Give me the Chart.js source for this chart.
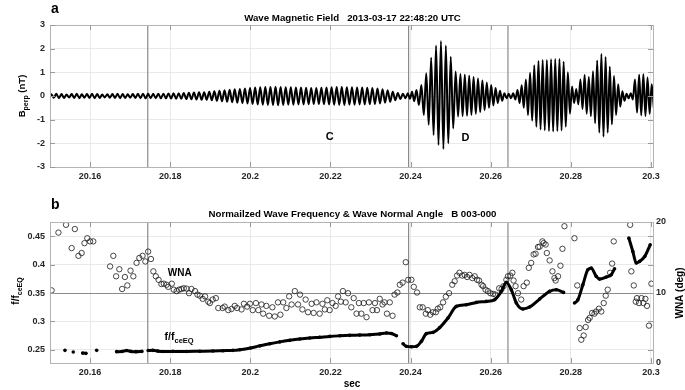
<!DOCTYPE html>
<html lang="en">
<head>
<meta charset="UTF-8">
<title>Wave Magnetic Field</title>
<script src="https://cdn.jsdelivr.net/npm/chart.js"></script>
<style>
  body { margin: 0; background: #fff; }
  #wrap { position: relative; width: 685px; height: 390px; }
  canvas { position: absolute; left: 0; }
</style>
</head>
<body>
<div id="wrap">
  <canvas id="waveChart" width="685" height="190" style="top:0"></canvas>
  <canvas id="freqChart" width="685" height="200" style="top:190px"></canvas>
</div>
<script>
// ---- shared time axis (sec) ----
const xTicks = [20.16, 20.18, 20.2, 20.22, 20.24, 20.26, 20.28, 20.3];
const markerTimes = [20.1744, 20.2395, 20.2643];

// ---- panel a: B_perp wave, read cycle by cycle ----
// each segment: period (ms), peak and trough size (nT) of every cycle
const waveStart = 20.15;
const wavePeriod = [1.272, 1.060, 1.222, 1.097, 1.047, 1.047, 1.047, 1.047, 1.047];
const quietAmp = [
  0.07, 0.09, 0.08, 0.06, 0.08, 0.09, 0.07, 0.08, 0.09, 0.08,
  0.06, 0.07, 0.08, 0.09, 0.08, 0.07, 0.08, 0.09, 0.10, 0.09,
  0.09, 0.10, 0.10, 0.11, 0.12, 0.12, 0.13, 0.14, 0.15, 0.16,
  0.16, 0.18, 0.20, 0.22, 0.24, 0.26, 0.28, 0.30, 0.32, 0.34,
  0.36, 0.37, 0.38, 0.38, 0.39, 0.38, 0.37, 0.37, 0.36, 0.36,
  0.35, 0.34, 0.34, 0.35, 0.36, 0.37, 0.38, 0.38, 0.37, 0.37,
  0.36, 0.36, 0.35, 0.34, 0.32, 0.28, 0.24, 0.18, 0.13, 0.10
];
const wavePeaks = [
  quietAmp,
  [0.12, 0.18],
  [0.25, 0.46, 0.96, 1.62, 2.13, 2.32, 2.13, 1.66, 1.03],
  [0.93, 0.9, 0.86, 0.8, 0.74, 0.66, 0.57, 0.46, 0.34, 0.22, 0.12, 0.1, 0.12],
  [0.25, 0.45, 0.7, 0.98, 1.3, 1.48, 1.52, 1.52, 1.55, 1.56, 1.56, 1.45, 1.0, 0.4],
  [0.3],
  [0.7, 0.89, 0.8, 1.05, 1.5, 1.78, 1.65, 1.24, 0.85, 0.5, 0.2],
  [0.1, 0.12],
  [0.7, 0.9, 0.92, 0.78, 0.5]
];
const waveTroughs = [
  quietAmp,
  [0.12, 0.22],
  [0.38, 0.8, 1.22, 1.65, 2.07, 2.24, 2.0, 1.37, 0.87],
  [0.85, 0.83, 0.8, 0.75, 0.68, 0.6, 0.5, 0.4, 0.3, 0.2, 0.1, 0.1, 0.15],
  [0.3, 0.5, 0.8, 1.05, 1.3, 1.42, 1.45, 1.48, 1.5, 1.48, 1.46, 1.3, 0.75, 0.3],
  [0.35],
  [0.55, 0.75, 0.85, 1.15, 1.55, 1.72, 1.55, 1.2, 0.8, 0.45, 0.2],
  [0.1, 0.15],
  [0.7, 0.82, 0.85, 0.75, 0.5]
];
const bTicks = [-3, -2, -1, 0, 1, 2, 3];

// ---- panel b: wave normal angle (deg, right axis) ----
const wnaT = [
  20.1504, 20.1521, 20.1540, 20.1554, 20.1562, 20.1571, 20.1579, 20.1586, 20.1593, 20.1600, 20.1608,
  20.1650, 20.1658, 20.1665, 20.1673, 20.1680, 20.1687, 20.1693, 20.1701, 20.1708, 20.1716,
  20.1723, 20.1731, 20.1738, 20.1745, 20.1752, 20.1758, 20.1764, 20.1771, 20.1778, 20.1784,
  20.1791, 20.1795, 20.1804, 20.1809, 20.1816, 20.1822, 20.1828, 20.1834, 20.1841, 20.1847,
  20.1853, 20.1862, 20.1868, 20.1874, 20.1881, 20.1887, 20.1895, 20.1899, 20.1906, 20.1914,
  20.1920, 20.1931, 20.1936, 20.1945, 20.1953, 20.1961, 20.1967,
  20.1978, 20.1984, 20.1992, 20.1999, 20.2006, 20.2014, 20.2020, 20.2028, 20.2032, 20.2040,
  20.2047, 20.2055, 20.2061, 20.2069, 20.2075, 20.2082, 20.2090, 20.2097, 20.2103, 20.2111,
  20.2119, 20.2124, 20.2130, 20.2138, 20.2144, 20.2153, 20.2158, 20.2165, 20.2173, 20.2180,
  20.2186, 20.2192, 20.2198, 20.2205, 20.2213, 20.2219, 20.2226, 20.2231, 20.2238, 20.2244,
  20.2252, 20.2258, 20.2265, 20.2271, 20.2277, 20.2283, 20.2290, 20.2296, 20.2305, 20.2311,
  20.2316, 20.2323, 20.2330, 20.2335, 20.2341, 20.2348, 20.2355, 20.2360, 20.2367, 20.2373,
  20.2380, 20.2388, 20.2394, 20.2402, 20.2408, 20.2416, 20.2423, 20.2430, 20.2438, 20.2443,
  20.2449, 20.2456, 20.2463, 20.2468, 20.2474, 20.2481, 20.2488, 20.2496, 20.2504, 20.2510,
  20.2516, 20.2522, 20.2529, 20.2535, 20.2541, 20.2547, 20.2554, 20.2560, 20.2566, 20.2571,
  20.2577, 20.2581, 20.2587, 20.2593, 20.2599, 20.2606, 20.2612, 20.2621, 20.2627, 20.2632,
  20.2639, 20.2643, 20.2649, 20.2654, 20.2657, 20.2662, 20.2668, 20.2676, 20.2682, 20.2690,
  20.2695, 20.2701, 20.2707, 20.2712, 20.2718, 20.2722, 20.2729, 20.2732, 20.2737, 20.2740,
  20.2747, 20.2754, 20.2759, 20.2762, 20.2768, 20.2774, 20.2779, 20.2784, 20.2809, 20.2816,
  20.2822, 20.2826, 20.2832, 20.2837, 20.2843, 20.2847, 20.2853, 20.2859, 20.2863, 20.2870,
  20.2876, 20.2882, 20.2887, 20.2892, 20.2898, 20.2903, 20.2907, 20.2948, 20.2951, 20.2957,
  20.2962, 20.2965, 20.2970, 20.2976, 20.2981, 20.2986, 20.2990, 20.2995, 20.3001
];
const wnaDeg = [
  10.3, 18.5, 19.6, 16.3, 19.0, 15.2, 15.6, 17.0, 17.7, 17.25, 17.25,
  13.7, 15.2, 12.3, 13.3, 10.5, 12.2, 11.0, 13.1, 12.3, 14.2,
  14.9, 15.2, 14.4, 15.8, 14.75, 13.0, 12.3, 11.8, 11.2, 11.25,
  11.1, 10.8, 11.25, 10.4, 10.2, 10.4, 10.5, 10.6, 10.55, 9.9,
  10.5, 10.2, 9.7, 9.55, 9.1, 9.45, 8.7, 8.5, 9.0, 9.2,
  7.8, 7.8, 8.0, 7.5, 7.66, 8.1, 7.8,
  7.6, 8.4, 8.0, 8.4, 7.5, 8.5, 7.5, 8.3, 7.0, 8.1,
  6.7, 7.9, 6.6, 8.6, 6.85, 8.6, 7.8, 9.45, 8.3, 10.2,
  8.3, 9.7, 7.6, 9.0, 7.2, 8.4, 7.1, 8.6, 7.0, 8.4,
  7.6, 8.9, 7.5, 8.5, 8.1, 9.45, 8.7, 10.2, 8.6, 9.9,
  7.9, 9.2, 7.0, 8.5, 7.0, 8.5, 6.5, 8.6, 7.5, 8.5,
  7.5, 9.1, 8.3, 8.6, 7.0, 8.6, 6.7, 9.7, 10.0, 11.1,
  11.4, 14.3, 11.8, 11.8, 10.8, 10.0, 7.9, 7.9, 7.0, 7.5,
  6.85, 7.2, 7.2, 7.7, 7.9, 8.6, 9.4, 9.9, 11.1, 11.6,
  12.4, 12.8, 12.4, 12.5, 12.2, 12.5, 12.05, 12.3, 11.8, 11.7,
  11.1, 10.9, 10.4, 10.2, 9.9, 9.8, 9.7, 10.6, 10.5, 10.9,
  11.8, 12.3, 12.4, 12.8, 11.7, 10.9, 9.9, 9.0, 10.9, 11.4,
  13.5, 14.2, 15.4, 15.5, 16.45, 16.5, 17.25, 17.0, 16.8, 15.6,
  14.55, 13.0, 12.05, 11.7, 12.3, 13.8, 16.2, 19.4, 17.7, 11.0,
  4.95, 3.3, 3.9, 5.1, 6.1, 6.4, 7.1, 7.0, 7.3, 7.7,
  7.3, 8.5, 9.55, 10.4, 12.8, 14.1, 17.25, 19.6, 13.0, 11.0,
  8.7, 9.2, 8.5, 9.2, 8.5, 9.1, 8.1, 5.3, 11.25
];
const wnaTicks = [0, 10, 20];

// ---- panel b: normalized frequency f/fceEQ (left axis), null = gap ----
const fT = [
  20.15374, 20.1548, 20.15581, 20.1570, 20.15815, 20.15898, 20.1600, 20.16165, 20.1640,
  20.16663, 20.16796, 20.16913, 20.17020, 20.17145, 20.17294, 20.1737,
  20.17451, 20.17569, 20.17693, 20.17818, 20.18067, 20.18409, 20.18741, 20.19065, 20.19314, 20.19564,
  20.19738, 20.20005, 20.20237, 20.20486, 20.20736, 20.20985, 20.21234, 20.21484, 20.21733, 20.21983,
  20.22232, 20.22481, 20.22731, 20.2298, 20.2323, 20.23397, 20.23521, 20.23646, 20.2373,
  20.23811, 20.23895, 20.2402, 20.24145, 20.24269, 20.24394, 20.24559, 20.24726, 20.24933, 20.25142,
  20.25392, 20.25641, 20.2589, 20.26098, 20.26265, 20.2639, 20.26514, 20.26639, 20.26803, 20.2697,
  20.2722, 20.27469, 20.27636, 20.27818, 20.2795,
  20.28092, 20.28175, 20.283, 20.28424, 20.28509, 20.28634, 20.28716, 20.28883, 20.29008, 20.2909, 20.2925,
  20.29447, 20.29547, 20.29631, 20.29714, 20.29844, 20.2998
];
const fRatio = [
  0.2488, null, 0.246, null, 0.244, 0.2435, null, 0.2488, null,
  0.2465, 0.2468, 0.2485, 0.247, 0.2465, 0.247, null,
  0.2485, 0.2488, 0.2475, 0.2468, 0.247, 0.2468, 0.2472, 0.2476, 0.2482, 0.2488,
  0.25, 0.253, 0.2568, 0.2606, 0.2638, 0.2665, 0.2688, 0.2706, 0.272, 0.2735,
  0.2745, 0.2753, 0.2758, 0.2765, 0.2778, 0.2795, 0.2785, 0.2747, null,
  0.2606, 0.2559, 0.2553, 0.2559, 0.2647, 0.2783, 0.2806, 0.289, 0.306, 0.3265,
  0.3294, 0.3335, 0.3353, 0.3383, 0.353, 0.3688, 0.3559, 0.3324, 0.3218, 0.3253,
  0.3394, 0.353, 0.3559, 0.3512, null,
  0.3324, 0.338, 0.3647, 0.3912, 0.394, 0.3794, 0.3747, 0.3783, 0.3824, 0.393, null,
  0.447, 0.4235, 0.403, 0.4059, 0.4147, 0.4353
];
const fTicks = [0.25, 0.3, 0.35, 0.4, 0.45];

// ---- build the wave line from the cycle table ----
const wavePts = [{ x: waveStart, y: 0 }];
let segT = waveStart;
wavePeriod.forEach((ms, s) => {
  const T = ms / 1000;
  wavePeaks[s].forEach((a, i) => {
    wavePts.push({ x: segT + (i + 0.25) * T, y: a });
    wavePts.push({ x: segT + (i + 0.75) * T, y: -waveTroughs[s][i] });
  });
  segT += wavePeaks[s].length * T;
});

const FONT = '"Liberation Sans", Arial, sans-serif';
Chart.defaults.font.family = FONT;
Chart.defaults.color = '#262626';

function tickLabel(v) { return String(Number(v.toFixed(2))); }
function fixTicks(list) { return scale => { scale.ticks = list.map(v => ({ value: v })); }; }

// draw text made of pieces (for subscripts), centred on x,y
function drawParts(ctx, parts, x, y, rot, align) {
  ctx.save();
  ctx.translate(x, y);
  if (rot) ctx.rotate(rot);
  let w = 0;
  parts.forEach(p => { ctx.font = 'bold ' + p.s + 'px ' + FONT; w += ctx.measureText(p.t).width; });
  let cx = align === 'left' ? 0 : -w / 2;
  ctx.textBaseline = 'alphabetic';
  ctx.textAlign = 'left';
  ctx.fillStyle = '#000';
  parts.forEach(p => {
    ctx.font = 'bold ' + p.s + 'px ' + FONT;
    ctx.fillText(p.t, cx, p.dy || 0);
    cx += ctx.measureText(p.t).width;
  });
  ctx.restore();
}

// MATLAB-like frame: marker lines, box, inward ticks, titles and labels
const frame = {
  id: 'frame',
  beforeDatasetsDraw(chart, args, opts) {
    const { ctx, chartArea: a, scales } = chart;
    ctx.save();
    ctx.strokeStyle = '#8a8a8a';
    ctx.lineWidth = 1.2;
    markerTimes.forEach(t => {
      const x = scales.x.getPixelForValue(t);
      ctx.beginPath(); ctx.moveTo(x, a.top); ctx.lineTo(x, a.bottom); ctx.stroke();
    });
    if (opts.hLine != null) {
      const y = Math.round(scales.y.getPixelForValue(opts.hLine)) + 0.5;
      ctx.lineWidth = 1;
      ctx.beginPath(); ctx.moveTo(a.left, y); ctx.lineTo(a.right, y); ctx.stroke();
    }
    ctx.restore();
  },
  afterDraw(chart, args, opts) {
    const { ctx, chartArea: a, scales } = chart;
    ctx.save();
    ctx.strokeStyle = '#b4b4b4';
    ctx.lineWidth = 1;
    ctx.strokeRect(Math.round(a.left) + 0.5, Math.round(a.top) + 0.5,
                   Math.round(a.right - a.left), Math.round(a.bottom - a.top));
    ctx.strokeStyle = '#9a9a9a';
    const tl = 5;
    xTicks.forEach(t => {
      const x = Math.round(scales.x.getPixelForValue(t)) + 0.5;
      ctx.beginPath();
      ctx.moveTo(x, a.bottom); ctx.lineTo(x, a.bottom - tl);
      ctx.moveTo(x, a.top); ctx.lineTo(x, a.top + tl);
      ctx.stroke();
    });
    scales.y.ticks.forEach(tk => {
      const y = Math.round(scales.y.getPixelForValue(tk.value)) + 0.5;
      ctx.beginPath();
      ctx.moveTo(a.left, y); ctx.lineTo(a.left + tl, y);
      ctx.moveTo(a.right, y); ctx.lineTo(a.right - tl, y);
      ctx.stroke();
    });
    ctx.restore();

    // panel letter and title
    ctx.save();
    ctx.fillStyle = '#000';
    ctx.font = 'bold 14px ' + FONT;
    ctx.textAlign = 'left';
    ctx.fillText(opts.letter, 51, opts.letterY);
    ctx.font = 'bold 9.7px ' + FONT;
    ctx.textAlign = 'center';
    ctx.fillText(opts.title, (a.left + a.right) / 2 + 1, opts.titleY);
    ctx.restore();

    (opts.texts || []).forEach(tx => {
      const x = scales.x.getPixelForValue(tx.x);
      const y = scales[tx.axis || 'y'].getPixelForValue(tx.y);
      drawParts(ctx, tx.parts, x, y, 0, tx.align);
    });
    (opts.labels || []).forEach(lb => drawParts(ctx, lb.parts, lb.x, lb.y, lb.rot, 'center'));
  }
};

const commonX = {
  type: 'linear',
  min: 20.15,
  max: 20.3005,
  afterBuildTicks: fixTicks(xTicks),
  ticks: { padding: 4, font: { size: 9, weight: 'bold' }, callback: tickLabel, maxRotation: 0 },
  grid: { color: '#e9e9e9', drawTicks: false },
  border: { display: false }
};

// ---- panel a ----
new Chart(document.getElementById('waveChart'), {
  type: 'line',
  data: {
    datasets: [{
      data: wavePts,
      borderColor: '#000',
      borderWidth: 2,
      pointRadius: 0,
      cubicInterpolationMode: 'monotone',
      clip: 0
    }]
  },
  options: {
    responsive: false,
    animation: false,
    events: [],
    layout: { padding: { top: 25, right: 32, left: 0, bottom: 0 } },
    scales: {
      x: Object.assign({}, commonX, { afterFit: s => { s.height = 23; } }),
      y: {
        min: -3, max: 3,
        afterBuildTicks: fixTicks(bTicks),
        afterFit: s => { s.width = 50; },
        ticks: { padding: 5, font: { size: 9, weight: 'bold' } },
        grid: { color: '#e9e9e9', drawTicks: false },
        border: { display: false }
      }
    },
    plugins: {
      legend: { display: false },
      tooltip: { enabled: false },
      frame: {
        letter: 'a', letterY: 13,
        title: 'Wave Magnetic Field   2013-03-17 22:48:20 UTC', titleY: 21,
        texts: [
          { x: 20.2198, y: -1.85, parts: [{ t: 'C', s: 11 }] },
          { x: 20.2537, y: -1.9, parts: [{ t: 'D', s: 11 }] }
        ],
        labels: [
          { x: 25, y: 96, rot: -Math.PI / 2,
            parts: [{ t: 'B', s: 9.5 }, { t: 'perp', s: 7, dy: 2.5 }, { t: ' (nT)', s: 9.5 }] }
        ]
      }
    }
  },
  plugins: [frame]
});

// ---- panel b ----
new Chart(document.getElementById('freqChart'), {
  type: 'scatter',
  data: {
    datasets: [
      {
        type: 'line',
        data: fT.map((t, i) => ({ x: t, y: fRatio[i] })),
        yAxisID: 'y',
        borderColor: '#000',
        backgroundColor: '#000',
        borderWidth: 3,
        pointRadius: 1.8,
        pointBorderWidth: 0,
        spanGaps: false,
        cubicInterpolationMode: 'monotone',
        order: 0
      },
      {
        data: wnaT.map((t, i) => ({ x: t, y: wnaDeg[i] })),
        yAxisID: 'y1',
        pointStyle: 'circle',
        pointRadius: 2.7,
        borderColor: '#1a1a1a',
        borderWidth: 0.8,
        backgroundColor: 'rgba(0,0,0,0)',
        order: 1
      }
    ]
  },
  options: {
    responsive: false,
    animation: false,
    events: [],
    layout: { padding: { top: 32, right: 0, left: 0, bottom: 0 } },
    scales: {
      x: Object.assign({}, commonX, { afterFit: s => { s.height = 27; } }),
      y: {
        position: 'left',
        min: 0.2265, max: 0.4755,
        afterBuildTicks: fixTicks(fTicks),
        afterFit: s => { s.width = 50; },
        ticks: { padding: 5, font: { size: 9, weight: 'bold' }, callback: tickLabel },
        grid: { color: '#e9e9e9', drawTicks: false },
        border: { display: false }
      },
      y1: {
        position: 'right',
        min: 0, max: 20,
        afterBuildTicks: fixTicks(wnaTicks),
        afterFit: s => { s.width = 32; },
        ticks: { padding: 3, font: { size: 9, weight: 'bold' } },
        grid: { display: false, drawTicks: false },
        border: { display: false }
      }
    },
    plugins: {
      legend: { display: false },
      tooltip: { enabled: false },
      frame: {
        letter: 'b', letterY: 19,
        title: 'Normailzed Wave Frequency & Wave Normal Angle   B 003-000', titleY: 27,
        hLine: 0.35,
        texts: [
          { x: 20.1824, y: 0.3795, parts: [{ t: 'WNA', s: 10 }] },
          { x: 20.1786, y: 0.2665, align: 'left',
            parts: [{ t: 'f/f', s: 10.5 }, { t: 'ceEQ', s: 7.5, dy: 3 }] }
        ],
        labels: [
          { x: 19, y: 101, rot: -Math.PI / 2,
            parts: [{ t: 'f/f', s: 10 }, { t: 'ceEQ', s: 7, dy: 2.5 }] },
          { x: 683, y: 103, rot: -Math.PI / 2, parts: [{ t: 'WNA (deg)', s: 10 }] },
          { x: 352, y: 197, rot: 0, parts: [{ t: 'sec', s: 10 }] }
        ]
      }
    }
  },
  plugins: [frame]
});
</script>
</body>
</html>
